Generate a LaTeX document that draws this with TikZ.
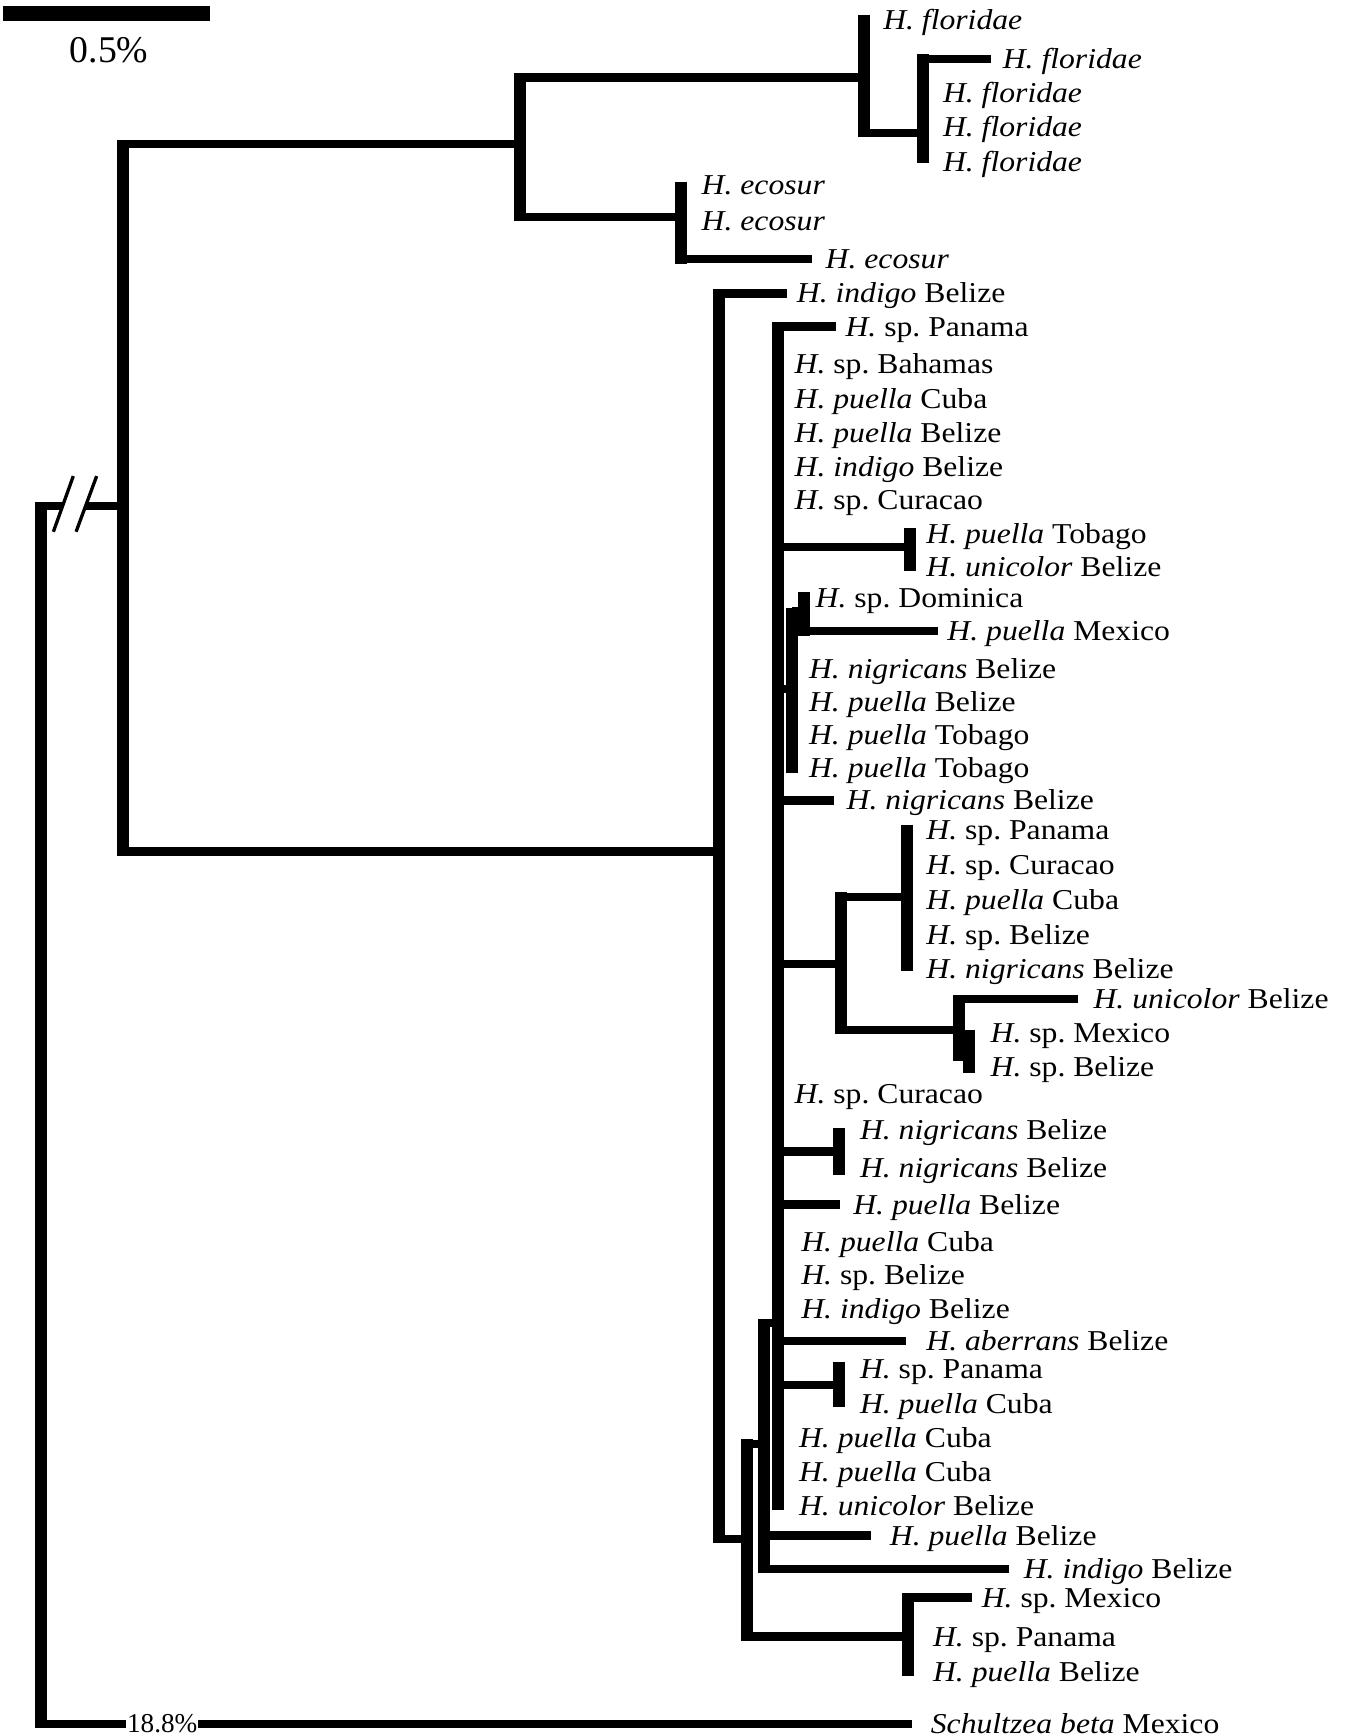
\documentclass[tikz,border=0pt]{standalone}
\usepackage{fontspec}
\setmainfont{Liberation Serif}
\frenchspacing

\begin{document}
\begin{tikzpicture}
  [x=0.1mm,y=-0.1mm,
   vbar/.style={line width=1.08mm},
   hbar/.style={line width=0.75mm},
   slash/.style={line width=0.3mm},
   leaf/.style={anchor=west,inner sep=0pt,xscale=1.1,text height=6pt,text depth=1.16pt,
     font=\fontsize{7.4}{9}\selectfont}]
  \useasboundingbox (0,0) rectangle (1214,1568);

  % scale bar
  \coordinate (bar1) at (3,12);
  \coordinate (bar2) at (190,12);
  \draw[line width=1.35mm] (bar1) -- (bar2);
  \node[font=\fontsize{9.7}{11}\selectfont] (scale) at (98.5,45) {0.5\%};

  % internal nodes: name / x / joint y / top / bottom
  \foreach \n/\x/\c/\t/\b in {R/37/457/453.5/1561, A/111/457/126.5/773,
      B/470/130/66/200, C/780/70/13.5/124, D/834/120/49/147, E/615/196/164/238,
      F/649/769/261/1394, J/703/1195/291/1364, T1/822/494/477/516,
      K/715/622/549/698, L/726/552/535/574, M/760/871/806/934, P/819/810/745/877,
      N/866/930/899/958, O/875.5/950/930/969, T2/758/1040/1019/1061,
      T3/758/1251/1230/1271, I/690/1304/1191/1421, H/675/1390/1300/1482,
      Q/820/1478/1439/1514}
  {
    \coordinate (\n) at (\x,\c);
    \coordinate (\n top) at (\x,\t);
    \coordinate (\n bot) at (\x,\b);
    \draw[vbar] (\n top) -- (\n bot);
  }

  \foreach \from/\to in {A/B,B/C,C/D,B/E,A/F,F/H,H/I,I/J,J/T1,J/K,K/L,
      J/M,M/P,M/N,N/O,J/T2,J/T3,H/Q}
    \draw[hbar] (\from |- \to) -- (\to);

  % broken root branch
  \coordinate (brk1) at (56.5,457);
  \coordinate (brk2) at (77.3,457);
  \draw[hbar] (R) -- (brk1);
  \draw[hbar] (brk2) -- (A);
  \draw[slash] (66.2,430) -- (48.2,480.3);
  \draw[slash] (87.3,430) -- (68.7,480.3);

  % leaves
  \foreach \nm/\y/\x/\txt in {
      f1/18/797/\textit{H. floridae}, f2/53/905/\textit{H. floridae},
      f3/84/851/\textit{H. floridae}, f4/115/851/\textit{H. floridae},
      f5/146/851/\textit{H. floridae},
      e1/167/633/\textit{H. ecosur}, e2/200/633/\textit{H. ecosur},
      e3/234/745/\textit{H. ecosur},
      i1/265/719/\textit{H. indigo} Belize,
      p1/295/763/\textit{H.} sp. Panama,
      b1/329/717/\textit{H.} sp. Bahamas,
      c1/360/717/\textit{H. puella} Cuba,
      pb1/391/717/\textit{H. puella} Belize,
      i2/422/717/\textit{H. indigo} Belize,
      cu1/452/717/\textit{H.} sp. Curacao,
      t1/482/836/\textit{H. puella} Tobago,
      u1/512/836/\textit{H. unicolor} Belize,
      d1/540/736/\textit{H.} sp. Dominica,
      m1/570/855/\textit{H. puella} Mexico,
      n1/604/730/\textit{H. nigricans} Belize,
      pb2/634/730/\textit{H. puella} Belize,
      t2/664/730/\textit{H. puella} Tobago,
      t3/694/730/\textit{H. puella} Tobago,
      n2/723/764/\textit{H. nigricans} Belize,
      p2/750/836/\textit{H.} sp. Panama,
      cu2/781/836/\textit{H.} sp. Curacao,
      c2/813/836/\textit{H. puella} Cuba,
      b2/845/836/\textit{H.} sp. Belize,
      n3/875/836/\textit{H. nigricans} Belize,
      u2/902/987/\textit{H. unicolor} Belize,
      mx1/933/894/\textit{H.} sp. Mexico,
      b3/964/894/\textit{H.} sp. Belize,
      cu3/988/717/\textit{H.} sp. Curacao,
      n4/1021/776/\textit{H. nigricans} Belize,
      n5/1055/776/\textit{H. nigricans} Belize,
      pb3/1088/770/\textit{H. puella} Belize,
      c3/1122/723/\textit{H. puella} Cuba,
      b4/1152/723/\textit{H.} sp. Belize,
      i3/1182/723/\textit{H. indigo} Belize,
      ab/1211/836/\textit{H. aberrans} Belize,
      p3/1237/776/\textit{H.} sp. Panama,
      c4/1268/776/\textit{H. puella} Cuba,
      c5/1299/721/\textit{H. puella} Cuba,
      c6/1330/721/\textit{H. puella} Cuba,
      u3/1360/721/\textit{H. unicolor} Belize,
      pb4/1387/803/\textit{H. puella} Belize,
      i4/1417/924/\textit{H. indigo} Belize,
      mx2/1443/886/\textit{H.} sp. Mexico,
      p4/1479/842/\textit{H.} sp. Panama,
      pb5/1510/842/\textit{H. puella} Belize,
      sb/1557/840/\textit{Schultzea beta} Mexico}
    \node[leaf] (\nm) at (\x,\y) {\txt};

  \foreach \from/\to/\gap in {D/f2/1.0mm,E/e3/1.2mm,F/i1/0.8mm,J/p1/0.8mm,
      L/m1/0.8mm,J/n2/1.1mm,N/u2/1.3mm,J/pb3/1.1mm,J/ab/1.8mm,
      I/pb4/1.6mm,I/i4/1.3mm,Q/mx2/0.8mm}
    \draw[hbar,shorten >=\gap] (\from |- \to.west) -- (\to.west);

  % outgroup
  \node[inner sep=0pt,font=\fontsize{7}{8}\selectfont] (pct) at (146.5,1557) {18.8\%};
  \draw[hbar] (R |- pct) -- (pct.west);
  \draw[hbar,shorten >=1.6mm] (pct.east) -- (sb.west);

\end{tikzpicture}
\end{document}
